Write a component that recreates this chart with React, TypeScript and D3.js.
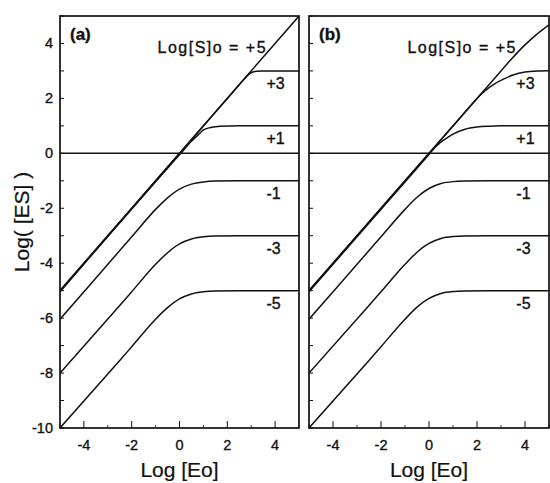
import React from "react";
import * as d3 from "d3";

// ---- data ----
const xTicks = [-4, -2, 0, 2, 4];
const xMinorTicks = [-5, -3, -1, 1, 3, 5];
const yTicks = [-10, -8, -6, -4, -2, 0, 2, 4];
const yMinorTicks = [-9, -7, -5, -3, -1, 1, 3, 5];

const seriesLabels = ["+5", "+3", "+1", "-1", "-3", "-5"];
const seriesLevels = [5, 3, 1, -1, -3, -5];

const zeroLine: [number, number][] = [[-5, 0], [5, 0]];

// Panel (a)
const plus5A: [number, number][] = [[-5, -5], [5, 5]];
const plus3A: [number, number][] = [[-5, -5], [2.2, 2.2], [2.5, 2.5], [2.75, 2.74], [2.95, 2.91], [3.2, 2.99], [3.5, 3], [5, 3]];
const plus1A: [number, number][] = [[-5, -5.04], [-0.5, -0.54], [0, -0.05], [0.5, 0.44], [0.8, 0.69], [1, 0.85], [1.3, 0.94], [1.7, 0.99], [2.5, 1], [5, 1]];
const minus1A: [number, number][] = [[-5, -6.04], [-2.5, -3.54], [-2, -3.04], [-1, -2.04], [-0.5, -1.62], [0, -1.3], [0.5, -1.12], [1, -1.04], [1.5, -1.01], [2.5, -1], [5, -1]];
const minus3A: [number, number][] = [[-5, -8.0], [-2.5, -5.54], [-2, -5.04], [-1, -4.04], [-0.5, -3.62], [0, -3.3], [0.5, -3.12], [1, -3.04], [1.5, -3.01], [2.5, -3], [5, -3]];
const minus5A: [number, number][] = [[-5, -10.0], [-2.5, -7.54], [-2, -7.04], [-1, -6.04], [-0.5, -5.62], [0, -5.3], [0.5, -5.12], [1, -5.04], [1.5, -5.01], [2.5, -5], [5, -5]];

// Panel (b)
const plus5B: [number, number][] = [[-5, -5], [3.0, 3.0], [3.4, 3.4], [4.0, 3.95], [4.5, 4.34], [5, 4.68]];
const plus3B: [number, number][] = [[-5, -5], [1.5, 1.5], [1.9, 1.9], [2.3, 2.25], [2.7, 2.51], [3.1, 2.7], [3.5, 2.85], [4, 2.96], [4.5, 3.0], [5, 3.01]];
const plus1B: [number, number][] = [[-5, -5.04], [-0.4, -0.44], [0, -0.04], [0.3, 0.26], [0.6, 0.47], [1.0, 0.7], [1.5, 0.88], [2, 0.96], [2.5, 0.99], [3, 1.0], [5, 1.0]];
const minus1B: [number, number][] = [[-5, -6.04], [-2.5, -3.54], [-2, -3.04], [-1, -2.04], [-0.5, -1.6], [0, -1.28], [0.5, -1.1], [1, -1.03], [1.5, -1.01], [2.5, -1], [5, -1]];
const minus3B: [number, number][] = [[-5, -8.0], [-2.5, -5.54], [-2, -5.04], [-1, -4.04], [-0.5, -3.6], [0, -3.28], [0.5, -3.1], [1, -3.03], [1.5, -3.01], [2.5, -3], [5, -3]];
const minus5B: [number, number][] = [[-5, -10.0], [-2.5, -7.54], [-2, -7.04], [-1, -6.04], [-0.5, -5.6], [0, -5.28], [0.5, -5.1], [1, -5.03], [1.5, -5.01], [2.5, -5], [5, -5]];

const panelNames = ["(a)", "(b)"];
const panelSeries = [
  [plus5A, plus3A, plus1A, minus1A, minus3A, minus5A],
  [plus5B, plus3B, plus1B, minus1B, minus3B, minus5B],
];

const xTitle = "Log [Eo]";
const yTitle = "Log( [ES] )";
const topLabelPrefix = "Log[S]o = ";

// ---- layout ----
const W = 550;
const H = 483;
const TOP = 16;
const BOTTOM = 428;
const panelX = [
  [60, 299],
  [309, 549],
];
const FONT = "'Liberation Sans', Arial, Helvetica, sans-serif";
const INK = "#111";
const TXT = { fontFamily: FONT, fill: INK, stroke: INK, strokeWidth: 0.35 };

function Panel({ idx }: { idx: number }) {
  const [l, r] = panelX[idx];
  const x = d3.scaleLinear().domain([-5, 5]).range([l, r]);
  const y = d3.scaleLinear().domain([-10, 5]).range([BOTTOM, TOP]);
  const line = d3
    .line<[number, number]>()
    .x((d) => x(d[0]))
    .y((d) => y(d[1]))
    .curve(d3.curveMonotoneX);
  const clipId = `clip-${idx}`;
  const series = panelSeries[idx];
  return (
    <g>
      <defs>
        <clipPath id={clipId}>
          <rect x={l} y={TOP} width={r - l} height={BOTTOM - TOP} />
        </clipPath>
      </defs>
      <g clipPath={`url(#${clipId})`}>
        <path d={line(zeroLine) || ""} fill="none" stroke={INK} strokeWidth={1.5} />
        {series.map((s, i) => (
          <path key={i} d={line(s) || ""} fill="none" stroke={INK} strokeWidth={1.5} />
        ))}
      </g>
      {/* frame */}
      <rect x={l} y={TOP} width={r - l} height={BOTTOM - TOP} fill="none" stroke={INK} strokeWidth={1.7} />
      {/* y ticks */}
      {yTicks.concat(yMinorTicks).map((t) => (
        <line key={"y" + t} x1={l} x2={l + 4} y1={y(t)} y2={y(t)} stroke={INK} strokeWidth={1} />
      ))}
      {/* x ticks */}
      {xTicks.map((t) => (
        <line key={"x" + t} x1={x(t)} x2={x(t)} y1={BOTTOM} y2={BOTTOM - 7} stroke={INK} strokeWidth={1} />
      ))}
      {xMinorTicks.map((t) => (
        <line key={"xm" + t} x1={x(t)} x2={x(t)} y1={BOTTOM} y2={BOTTOM - 3} stroke={INK} strokeWidth={0.8} />
      ))}
      {xTicks.map((t) => (
        <text key={"xl" + t} x={x(t)} y={450} textAnchor="middle" fontSize={14.5} {...TXT}>
          {String(t)}
        </text>
      ))}
      {idx === 0 &&
        yTicks.map((t) => (
          <text key={"yl" + t} x={l - 7} y={y(t) + 5} textAnchor="end" fontSize={14.5} {...TXT}>
            {String(t)}
          </text>
        ))}
      {/* panel tag */}
      <text x={l + 10} y={TOP + 24} fontSize={17} fontWeight="bold" {...TXT}>
        {panelNames[idx]}
      </text>
      {/* series labels */}
      <text
        x={x(3.6)}
        y={y(5) + 37}
        textAnchor="end"
        fontSize={16}
        textLength={108}
        lengthAdjust="spacing"
        {...TXT}
      >
        {topLabelPrefix + seriesLabels[0]}
      </text>
      {seriesLabels.slice(1).map((lab, i) => (
        <text key={lab} x={x(3.64)} y={y(seriesLevels[i + 1]) + 18} fontSize={16} {...TXT}>
          {lab}
        </text>
      ))}
      {/* x title */}
      <text x={(l + r) / 2} y={477} textAnchor="middle" fontSize={21} {...TXT} strokeWidth={0.2}>
        {xTitle}
      </text>
    </g>
  );
}

export default function App() {
  return (
    <svg
      width={W}
      height={H}
      viewBox={`0 0 ${W} ${H}`}
      style={{ position: "absolute", left: 0, top: 0, background: "#fff" }}
    >
      <rect x={0} y={0} width={W} height={H} fill="#fff" />
      <Panel idx={0} />
      <Panel idx={1} />
      <text
        transform={`translate(29, ${(TOP + BOTTOM) / 2}) rotate(-90)`}
        textAnchor="middle"
        fontSize={21}
        {...TXT}
        strokeWidth={0.2}
      >
        {yTitle}
      </text>
    </svg>
  );
}
